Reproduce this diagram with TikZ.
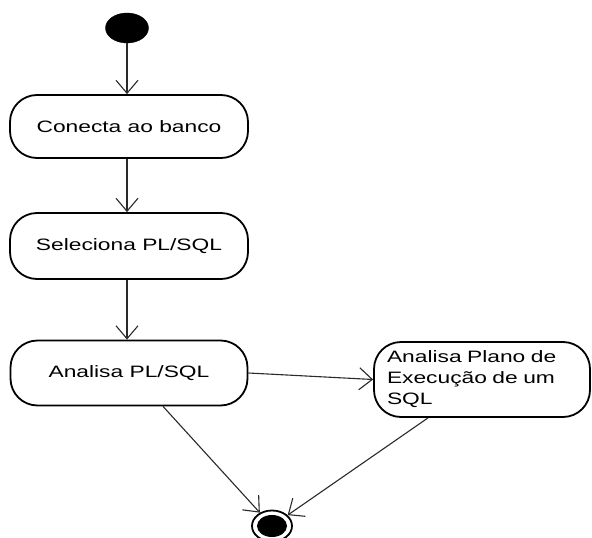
\documentclass[tikz,border=0pt]{standalone}
\usepackage{fontspec}
\setmainfont{Liberation Sans}[FakeStretch=1.38]
\usetikzlibrary{arrows.meta,shapes.geometric,positioning}
\definecolor{edge}{HTML}{2A2A2A}
\tikzset{
  act/.style={draw=black, line width=1.8pt, fill=white, rounded corners=27pt,
    font=\fontsize{16.5}{21}\selectfont, inner sep=0pt},
  flow/.style={draw=edge, line width=1.1pt,
    -{Straight Barb[length=13pt,width=22pt,line width=1.1pt]}},
}
\begin{document}
\begin{tikzpicture}[x=1pt,y=-1pt]
\useasboundingbox[fill=white] (0,0) rectangle (592,538);
\node[ellipse, fill=black, draw=black, minimum width=43pt, minimum height=30pt, inner sep=0pt] (start) at (127,28) {};
\node[act, minimum width=238pt, minimum height=63pt] (b1) at (129,126.5) {Conecta ao banco};
\node[act, minimum width=238pt, minimum height=66pt] (b2) at (129,246) {Seleciona PL/SQL};
\node[act, minimum width=237pt, minimum height=65pt] (b3) at (129,373) {Analisa PL/SQL};
\node[act, minimum width=216pt, minimum height=75pt, text width=190pt, align=left, inner xsep=13pt] (b4) at (482,379.5) {Analisa Plano de\\Execução de um\\SQL};
\node[ellipse, draw=black, line width=1.8pt, minimum width=40pt, minimum height=31pt, inner sep=0pt] (end) at (272,526) {};
\node[ellipse, fill=black, minimum width=30pt, minimum height=22pt, inner sep=0pt] (endin) at (end.center) {};
\draw[flow] (start) -- (b1.north -| start);
\draw[flow] (b1.south -| start) -- (b2.north -| start);
\draw[flow] (b2.south -| start) -- (b3.north -| start);
\draw[flow] (b3.east) -- (b4.west);
\draw[flow] ([xshift=34pt]b3.south) -- (end);
\draw[flow] ([xshift=-54pt]b4.south) -- (end);
\end{tikzpicture}
\end{document}
